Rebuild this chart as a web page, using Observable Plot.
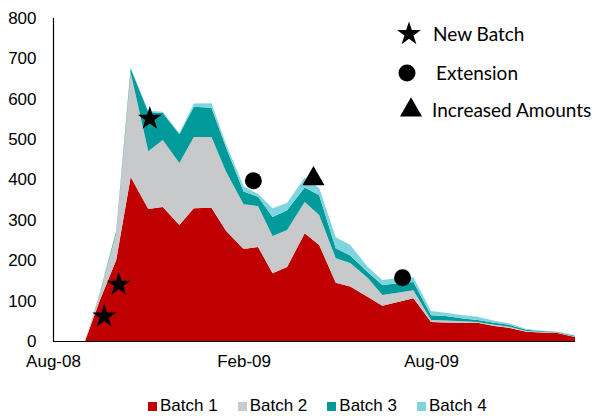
<!DOCTYPE html>
<html><head><meta charset="utf-8">
<script src="https://cdn.jsdelivr.net/npm/d3@7"></script>
<script src="https://cdn.jsdelivr.net/npm/@observablehq/plot@0.6"></script>
<style>
body{margin:0;background:#fff;}
#wrap{position:relative;width:601px;height:416px;overflow:hidden;font-family:"Liberation Sans",Arial,sans-serif;background:#fff;}
#chart{position:absolute;left:0;top:0;}
#chart svg, #chart svg text{font-family:"Liberation Sans",Arial,sans-serif !important;font-size:17px;}
.mleg{position:absolute;left:396px;top:0;font-family:Lato,"Open Sans",sans-serif;font-size:19px;color:#000;}
.mrow{position:absolute;white-space:nowrap;height:30px;line-height:30px;}
.mrow svg{position:absolute;left:0;top:0;}
.mrow span{position:absolute;top:0;}
#bleg{position:absolute;left:148px;top:396px;height:20px;display:flex;font-size:17px;line-height:20px;color:#000;font-family:"Liberation Sans",Arial,sans-serif;}
#bleg .it{display:flex;align-items:center;margin-right:20px;}
#bleg .sw{width:9px;height:9px;margin-right:3px;}
</style></head><body><div id="wrap"><div id="chart"></div></div>
<script>
const dates = ["2008-09-01","2008-09-15","2008-10-01","2008-10-15","2008-11-01","2008-11-15","2008-12-01","2008-12-15",
  "2009-01-01","2009-01-15","2009-02-01","2009-02-15","2009-03-01","2009-03-15","2009-04-01","2009-04-15",
  "2009-05-01","2009-05-15","2009-06-01","2009-06-15","2009-07-01","2009-07-15","2009-08-01","2009-08-15",
  "2009-09-01","2009-09-15","2009-10-01","2009-10-15","2009-11-01","2009-11-15","2009-12-01","2009-12-18"];
const batch1 = [0,100,200,406,327,332,287,329,330,273,228,233,168,183,267,238,144,135,109,87,97,106,47,46,45,45,37,33,23,21,20,10];
const batch2 = [0,15,67,259,143,166,154,176,175,147,111,101,92,92,77,74,61,58,47,27,23,20,5,5,4,2,3,3,2,2,1,1];
const batch3 = [0,2,5,10,97,67,71,75,73,60,31,23,47,49,36,49,25,19,14,25,23,20,12,11,7,5,5,4,3,2,1,2];
const batch4 = [0,1,1,2,3,3,3,8,11,8,13,7,22,18,25,18,27,26,13,12,13,12,10,8,8,8,5,4,2,1,1,2];
const batchNames = ["Batch 1","Batch 2","Batch 3","Batch 4"];
const batchColors = ["#C00000","#C8C9CB","#009A9A","#7FD5DF"];
const xTickDates = ["2008-08-01","2009-02-01","2009-08-01"];
const yTicks = [0,100,200,300,400,500,600,700,800];
const markerDates = ["2008-09-19","2008-10-03","2008-11-02","2009-02-10","2009-04-09","2009-07-04"];
const markerValues = [62,141,552,398,403,158];
const markerTypes = ["New Batch","New Batch","New Batch","Extension","Increased Amounts","Extension"];
const markerNames = ["New Batch","Extension","Increased Amounts"];
const markerSymbols = ["star","circle","triangle"];
const markerRadii = [7.5,8.5,8.2];

const parse = d3.utcParse("%Y-%m-%d");
const series = [batch1,batch2,batch3,batch4];
const table = batchNames.flatMap((b,i)=>dates.map((d,j)=>({date:parse(d),batch:b,value:series[i][j]})));
const markers = markerDates.map((d,i)=>({date:parse(d),value:markerValues[i],type:markerTypes[i]}));
const xStart = parse(xTickDates[0]);
const xEnd = parse(dates[dates.length-1]);

const plot = Plot.plot({
  width:601, height:375, marginLeft:53, marginRight:26, marginTop:18, marginBottom:34,
  style:{fontSize:"17px", color:"#000", background:"#fff", overflow:"visible"},
  x:{type:"utc", domain:[xStart,xEnd], ticks:xTickDates.map(parse), tickFormat:d3.utcFormat("%b-%y"), tickSize:0, tickPadding:13, label:null},
  y:{domain:[yTicks[0],yTicks[yTicks.length-1]], ticks:yTicks, tickSize:0, tickPadding:17, label:null},
  color:{domain:batchNames, range:batchColors},
  marks:[
    Plot.areaY(table,{x:"date",y:"value",fill:"batch",order:batchNames,curve:"linear"}),
    Plot.ruleY([yTicks[0]],{stroke:"#000",strokeWidth:1.2}),
    Plot.ruleX([xStart],{y1:yTicks[0],y2:yTicks[yTicks.length-1],stroke:"#000",strokeWidth:1.2}),
    ...markerNames.map((n,k)=>Plot.dot(markers,{filter:d=>d.type===n,x:"date",y:"value",symbol:markerSymbols[k],r:markerRadii[k],fill:"#000",stroke:"none"}))
  ]
});
document.getElementById("chart").appendChild(plot);

// marker legend (top right)
const wrap = document.getElementById("wrap");
const mleg = document.createElement("div"); mleg.className="mleg"; wrap.appendChild(mleg);
const symMap = {star:d3.symbolStar,circle:d3.symbolCircle,triangle:d3.symbolTriangle};
const rowTops = [19,58,95];
const symCx = [13,11,15];
const txtX = [37,40,36];
markerNames.forEach((n,k)=>{
  const row=document.createElement("div"); row.className="mrow"; row.style.top=rowTops[k]+"px"; row.style.left="0px"; row.style.width="210px";
  const r = markerRadii[k];
  const path = d3.symbol(symMap[markerSymbols[k]], Math.PI*r*r)();
  row.innerHTML = `<svg width="30" height="30"><path transform="translate(${symCx[k]},15)" d="${path}" fill="#000"/></svg><span style="left:${txtX[k]}px">${n}</span>`;
  mleg.appendChild(row);
});

// batch legend (bottom)
const bleg = document.createElement("div"); bleg.id="bleg"; wrap.appendChild(bleg);
batchNames.forEach((n,i)=>{
  const it=document.createElement("div"); it.className="it";
  it.innerHTML=`<div class="sw" style="background:${batchColors[i]}"></div><span>${n}</span>`;
  bleg.appendChild(it);
});
</script>
</body></html>
